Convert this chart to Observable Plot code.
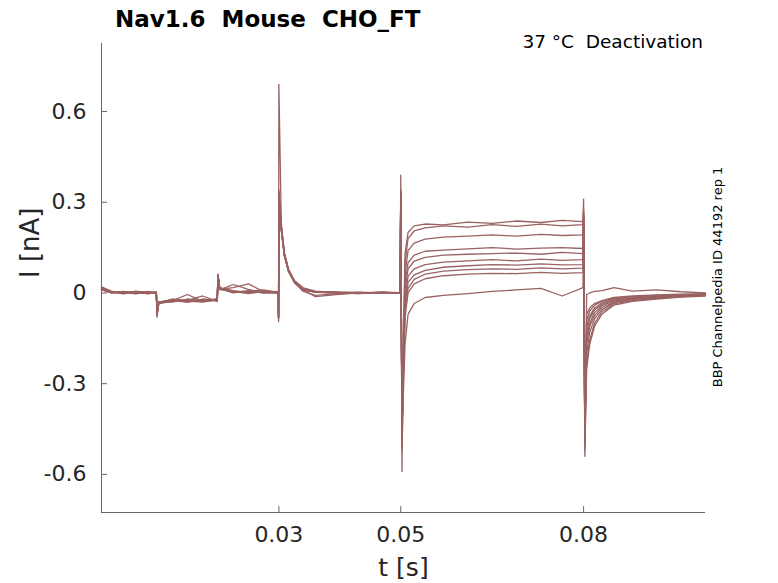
<!DOCTYPE html>
<html><head><meta charset="utf-8">
<script src="https://cdn.jsdelivr.net/npm/d3@7"></script>
<script src="https://cdn.jsdelivr.net/npm/@observablehq/plot@0.6"></script>
<style>body{margin:0;background:#fff} svg{font-family:"DejaVu Sans"}</style>
</head><body><div id="chart"></div>
<script>
// time knots [s]
const T = [0.0009,0.0025,0.0045,0.0065,0.0085,0.0099,0.0100,0.0103,0.0125,0.0150,
  0.0175,0.0199,0.0200,0.0203,0.0225,0.0250,0.0275,0.0299,0.02995,0.0300,
  0.0304,0.0309,0.0316,0.0326,0.0340,0.0360,0.0390,0.0430,0.0470,0.0499,
  0.0500,0.0502,0.0504,0.0507,0.0512,0.0522,0.0540,0.0570,0.0610,0.0650,
  0.0690,0.0730,0.0765,0.0799,0.0800,0.0802,0.0805,0.0810,0.0818,0.0830,
  0.0850,0.0880,0.0920,0.0960,0.1000];
// currents [nA], one array per sweep
const I01 = [0.018,0.004,-0.003,0.006,0.002,0.003,-0.08,-0.035,-0.028,-0.022,
  -0.026,-0.02,0.062,0.018,0.008,0.002,0.006,0.004,-0.095,0.69,
  0.23,0.135,0.078,0.04,0.017,0.006,0.002,-0.002,0.003,0.001,
  0.39,-0.59,-0.2,0.13,0.2,0.222,0.228,0.225,0.234,0.23,
  0.238,0.233,0.24,0.236,0.31,-0.54,-0.25,-0.17,-0.11,-0.07,
  -0.04,-0.028,-0.02,-0.014,-0.01];
const I02 = [0.012,0.0,0.004,-0.002,0.005,0.0,-0.07,-0.03,-0.024,-0.03,
  -0.02,-0.025,0.058,0.014,0.002,0.008,0.0,0.002,-0.08,0.34,
  0.22,0.13,0.075,0.037,0.014,0.004,0.0,0.003,-0.001,0.002,
  0.34,-0.5,-0.22,0.1,0.18,0.205,0.215,0.222,0.218,0.226,
  0.22,0.228,0.222,0.226,0.28,-0.5,-0.23,-0.155,-0.1,-0.062,
  -0.036,-0.025,-0.017,-0.012,-0.008];
const I03 = [0.02,0.006,-0.002,0.003,-0.003,0.004,-0.075,-0.033,-0.02,-0.027,
  -0.03,-0.022,0.06,0.012,0.018,0.03,0.004,0.0,-0.085,0.33,
  0.215,0.128,0.072,0.035,0.012,0.003,0.004,0.0,0.002,0.0,
  0.33,-0.48,-0.25,0.06,0.14,0.165,0.178,0.185,0.188,0.192,
  0.188,0.194,0.19,0.192,0.27,-0.48,-0.2,-0.13,-0.085,-0.055,
  -0.032,-0.022,-0.015,-0.011,-0.007];
const I04 = [0.015,0.002,0.005,0.0,0.003,-0.002,-0.07,-0.03,-0.026,-0.005,
  -0.028,-0.024,0.056,0.01,0.028,0.012,0.0,0.003,-0.08,0.32,
  0.21,0.125,0.07,0.033,0.005,-0.008,-0.003,0.002,0.0,0.001,
  0.32,-0.47,-0.27,0.03,0.1,0.125,0.138,0.142,0.146,0.15,
  0.145,0.148,0.15,0.147,0.26,-0.47,-0.17,-0.11,-0.075,-0.048,
  -0.03,-0.02,-0.014,-0.01,-0.006];
const I05 = [0.01,0.003,0.0,0.004,0.0,0.002,-0.072,-0.032,-0.022,-0.025,
  -0.01,-0.028,0.06,0.016,0.0,0.006,0.01,0.001,-0.085,0.33,
  0.22,0.13,0.074,0.036,0.01,-0.012,-0.006,0.0,0.003,-0.001,
  0.33,-0.46,-0.28,0.01,0.08,0.105,0.118,0.125,0.128,0.13,
  0.132,0.128,0.134,0.13,0.26,-0.46,-0.15,-0.1,-0.065,-0.042,
  -0.026,-0.018,-0.012,-0.009,-0.006];
const I06 = [0.016,0.0,0.003,-0.003,0.004,0.0,-0.068,-0.03,-0.03,-0.02,
  -0.026,-0.02,0.055,0.012,0.006,-0.002,0.005,0.0,-0.075,0.31,
  0.205,0.122,0.07,0.034,0.012,0.002,0.0,-0.002,0.002,0.0,
  0.31,-0.45,-0.29,-0.02,0.055,0.08,0.094,0.102,0.106,0.11,
  0.106,0.112,0.108,0.11,0.25,-0.45,-0.13,-0.085,-0.055,-0.038,
  -0.024,-0.016,-0.011,-0.008,-0.005];
const I07 = [0.012,0.005,0.0,0.002,-0.002,0.003,-0.07,-0.034,-0.025,-0.03,
  -0.024,-0.026,0.058,0.014,0.003,0.0,0.008,0.002,-0.08,0.32,
  0.21,0.125,0.072,0.035,0.011,0.003,0.001,0.0,0.0,0.002,
  0.32,-0.45,-0.3,-0.04,0.035,0.06,0.075,0.085,0.09,0.094,
  0.092,0.096,0.093,0.094,0.25,-0.45,-0.11,-0.075,-0.05,-0.033,
  -0.02,-0.014,-0.01,-0.007,-0.004];
const I08 = [0.014,0.002,0.004,0.0,0.002,0.001,-0.07,-0.03,-0.027,-0.024,
  -0.028,-0.022,0.06,0.015,0.004,0.003,0.002,0.0,-0.08,0.33,
  0.215,0.128,0.073,0.036,0.012,0.004,0.002,0.001,0.0,0.0,
  0.33,-0.46,-0.3,-0.06,0.015,0.045,0.062,0.072,0.077,0.08,
  0.078,0.083,0.08,0.082,0.25,-0.46,-0.09,-0.06,-0.04,-0.028,
  -0.018,-0.012,-0.008,-0.006,-0.004];
const I09 = [0.01,0.0,0.002,0.001,0.0,0.002,-0.068,-0.03,-0.024,-0.028,
  -0.022,-0.024,0.057,0.013,0.002,0.005,0.0,0.001,-0.078,0.32,
  0.21,0.124,0.071,0.034,0.011,0.003,0.0,0.0,0.001,0.0,
  0.32,-0.47,-0.31,-0.08,0.0,0.03,0.047,0.057,0.062,0.065,
  0.064,0.068,0.065,0.067,0.24,-0.47,-0.07,-0.05,-0.035,-0.025,
  -0.015,-0.01,-0.006,-0.004,-0.002];
const I10 = [0.012,0.002,0.0,0.004,0.001,0.0,-0.07,-0.03,-0.022,-0.026,
  -0.025,-0.023,0.058,0.014,0.005,0.002,0.004,0.002,-0.08,0.33,
  0.215,0.128,0.072,0.035,0.012,0.004,0.001,0.0,0.002,0.0,
  0.34,-0.52,-0.35,-0.17,-0.07,-0.035,-0.015,-0.008,-0.002,0.005,
  0.01,0.015,-0.01,0.018,0.26,-0.52,-0.005,0.0,0.005,0.008,
  0.018,0.006,0.01,0.004,0.0];
const sweeps = [I01,I02,I03,I04,I05,I06,I07,I08,I09,I10];

const xTicks = [0.03, 0.05, 0.08];
const yTicks = [-0.6, -0.3, 0, 0.3, 0.6];
const xDomain = [0.0009, 0.1];
const yDomain = [-0.726, 0.825];
const titleText = "Nav1.6  Mouse  CHO_FT";
const subtitleText = "37 °C  Deactivation";
const sideText = "BBP Channelpedia ID 44192 rep 1";
const xLabel = "t [s]";
const yLabel = "I [nA]";

const data = sweeps.flatMap((vals, j) => vals.map((v, k) => ({sweep: j, t: T[k], I: v})));

const axisColor = "#666";
const textColor = "#262626";

const plot = Plot.plot({
  width: 778, height: 583,
  marginLeft: 101, marginRight: 73, marginTop: 43, marginBottom: 71,
  x: {domain: xDomain},
  y: {domain: yDomain},
  style: {fontFamily: "DejaVu Sans", background: "white", color: textColor},
  marks: [
    Plot.line(data, {x: "t", y: "I", z: "sweep", stroke: "#9a6262", strokeWidth: 1.3}),
    Plot.ruleX([xDomain[0]], {stroke: axisColor}),
    Plot.ruleY([yDomain[0]], {stroke: axisColor}),
    Plot.axisX({ticks: xTicks, tickSize: -6, tickPadding: 20, stroke: axisColor,
      tickFormat: d => d3.format(".2f")(d), fontSize: 22, label: null, color: textColor}),
    Plot.axisY({ticks: yTicks, tickSize: -6, tickPadding: 21, stroke: axisColor,
      tickFormat: d => d === 0 ? "0" : d.toFixed(1), fontSize: 22, label: null, color: textColor}),
    Plot.text([xLabel], {frameAnchor: "bottom", dy: 55, fontSize: 25, fill: textColor, lineAnchor: "middle"}),
    Plot.text([yLabel], {frameAnchor: "left", dx: -71, rotate: -90, fontSize: 26, fill: textColor, lineAnchor: "middle"})
  ]
});

const svg = d3.select(plot);
svg.append("text").attr("x", 115).attr("y", 27).attr("font-size", 23).attr("font-weight", "bold")
  .attr("text-anchor", "start").attr("fill", "#000").text(titleText);
svg.append("text").attr("x", 703).attr("y", 48).attr("font-size", 18.5).attr("text-anchor", "end")
  .attr("fill", "#000").text(subtitleText);
svg.append("text").attr("transform", "translate(717,277) rotate(-90)").attr("font-size", 13)
  .attr("text-anchor", "middle").attr("dominant-baseline", "central").attr("fill", "#000").text(sideText);

document.getElementById("chart").appendChild(plot);
</script></body></html>
